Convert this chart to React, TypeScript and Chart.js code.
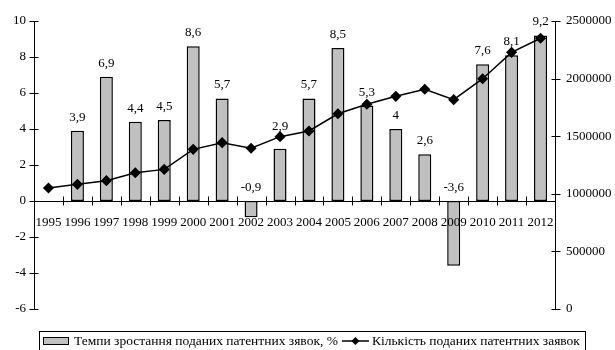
import { useEffect, useRef } from "react";
import { Chart, registerables } from "chart.js";

Chart.register(...registerables);

const years = [
  "1995", "1996", "1997", "1998", "1999", "2000", "2001", "2002", "2003",
  "2004", "2005", "2006", "2007", "2008", "2009", "2010", "2011", "2012",
];

// Growth rate of filed patent applications, % (no value for the first year)
const growthRates: (number | null)[] = [
  null, 3.9, 6.9, 4.4, 4.5, 8.6, 5.7, -0.9, 2.9,
  5.7, 8.5, 5.3, 4, 2.6, -3.6, 7.6, 8.1, 9.2,
];

// Number of filed patent applications
const applications = [
  1050000, 1082000, 1114000, 1183000, 1212000, 1386000, 1444000, 1395000, 1496000,
  1545000, 1695000, 1777000, 1846000, 1907000, 1817000, 1999000, 2228000, 2350000,
];

const rateTicks = [-6, -4, -2, 0, 2, 4, 6, 8, 10];
const countTicks = [0, 500000, 1000000, 1500000, 2000000, 2500000];

const rateLabel = "Темпи зростання поданих патентних зявок, %";
const countLabel = "Кількість поданих патентних заявок";

const FONT_FAMILY = "'Liberation Serif', 'Times New Roman', serif";
const FONT_SIZE = 13;
const LEGEND_FONT_SIZE = 13.5;
const BAR_FILL = "#c0c0c0";

const fmtRate = (v: number) => String(v).replace(".", ",");

// Tick marks that cross each axis line
const crossTicks = {
  id: "crossTicks",
  afterDatasetsDraw(chart: any) {
    const { ctx, scales } = chart;
    const x = scales.x;
    const y = scales.y;
    const y1 = scales.y1;
    const half = 4;
    ctx.save();
    ctx.strokeStyle = "#000";
    ctx.lineWidth = 1;
    ctx.beginPath();
    const zeroY = Math.round(y.getPixelForValue(0)) + 0.5;
    const n = years.length;
    const step = (x.right - x.left) / n;
    for (let i = 1; i < n; i++) {
      const px = Math.round(x.left + i * step) + 0.5;
      ctx.moveTo(px, zeroY - half - 1);
      ctx.lineTo(px, zeroY + half);
    }
    const lx = Math.round(y.right) + 0.5;
    rateTicks.forEach((v) => {
      const py = Math.round(y.getPixelForValue(v)) + 0.5;
      ctx.moveTo(lx - half - 1, py);
      ctx.lineTo(lx + half, py);
    });
    const rx = Math.round(y1.left) + 0.5;
    countTicks.forEach((v) => {
      const py = Math.round(y1.getPixelForValue(v)) + 0.5;
      ctx.moveTo(rx - half, py);
      ctx.lineTo(rx + half + 1, py);
    });
    ctx.stroke();
    ctx.restore();
  },
};

// Value labels above the bars, nudged up when they would sit on a line marker
const barValueLabels = {
  id: "barValueLabels",
  afterDatasetsDraw(chart: any) {
    const { ctx } = chart;
    const lineMeta = chart.getDatasetMeta(0);
    chart.data.datasets.forEach((ds: any, di: number) => {
      if (ds.type !== "bar") return;
      const meta = chart.getDatasetMeta(di);
      ctx.save();
      ctx.font = `${FONT_SIZE}px ${FONT_FAMILY}`;
      ctx.fillStyle = "#000";
      ctx.textAlign = "center";
      ctx.textBaseline = "middle";
      meta.data.forEach((el: any, i: number) => {
        const v = ds.data[i];
        if (v === null || v === undefined) return;
        const top = Math.min(el.y, el.base);
        let ly = top - 13.5;
        const pt = lineMeta.data[i];
        if (pt && Math.abs(pt.y - ly) < 10.5) {
          ly = Math.min(ly, pt.y - 10.5);
        }
        ctx.fillText(fmtRate(v), el.x, ly);
      });
      ctx.restore();
    });
  },
};

// Framed legend row at the bottom of the canvas
const framedLegend = {
  id: "framedLegend",
  afterDraw(chart: any) {
    const { ctx } = chart;
    const [lineDs, barDs] = chart.data.datasets;
    const left = 39.5;
    const top = 331.5;
    const midY = 341;
    ctx.save();
    ctx.font = `${LEGEND_FONT_SIZE}px ${FONT_FAMILY}`;
    ctx.textBaseline = "middle";
    ctx.textAlign = "left";
    ctx.lineWidth = 1;
    ctx.strokeStyle = "#000";

    // bar swatch
    ctx.fillStyle = barDs.backgroundColor;
    ctx.fillRect(43.5, 337.5, 25, 7);
    ctx.strokeRect(43.5, 337.5, 25, 7);
    ctx.fillStyle = "#000";
    const t1x = 74;
    ctx.fillText(barDs.label, t1x, midY);
    const t1End = t1x + ctx.measureText(barDs.label).width;

    // line swatch with diamond marker
    const s0 = t1End + 4;
    const s1 = s0 + 27;
    ctx.beginPath();
    ctx.lineWidth = 1.5;
    ctx.moveTo(s0, midY);
    ctx.lineTo(s1, midY);
    ctx.stroke();
    const cx = (s0 + s1) / 2;
    const r = 4;
    ctx.beginPath();
    ctx.moveTo(cx, midY - r);
    ctx.lineTo(cx + r, midY);
    ctx.lineTo(cx, midY + r);
    ctx.lineTo(cx - r, midY);
    ctx.closePath();
    ctx.fillStyle = lineDs.pointBackgroundColor;
    ctx.fill();
    ctx.fillStyle = "#000";
    const t2x = s1 + 3;
    ctx.fillText(lineDs.label, t2x, midY);
    const t2End = t2x + ctx.measureText(lineDs.label).width;

    // frame (bottom edge runs past the canvas)
    ctx.lineWidth = 1;
    ctx.strokeRect(left, top, Math.round(t2End + 6 - left), 30);
    ctx.restore();
  },
};

export default function App() {
  const canvasRef = useRef<HTMLCanvasElement | null>(null);

  useEffect(() => {
    document.body.style.margin = "0";
    const canvas = canvasRef.current;
    if (!canvas) return;

    const tickFont = { family: FONT_FAMILY, size: FONT_SIZE };

    const chart = new Chart(canvas, {
      data: {
        labels: years,
        datasets: [
          {
            type: "line",
            label: countLabel,
            data: applications,
            yAxisID: "y1",
            borderColor: "#000",
            borderWidth: 1.5,
            pointStyle: "rectRot",
            pointRadius: 4.5,
            pointBackgroundColor: "#000",
            pointBorderColor: "#000",
            tension: 0,
            order: 0,
          },
          {
            type: "bar",
            label: rateLabel,
            data: growthRates,
            yAxisID: "y",
            backgroundColor: BAR_FILL,
            borderColor: "#000",
            borderWidth: 1.5,
            borderSkipped: false,
            barPercentage: 0.45,
            categoryPercentage: 1,
            order: 1,
          },
        ],
      } as any,
      options: {
        responsive: false,
        animation: false,
        events: [],
        layout: { padding: { top: 21, bottom: 41, left: 0, right: 0 } },
        plugins: {
          legend: { display: false },
          tooltip: { enabled: false },
        },
        scales: {
          x: {
            type: "category",
            position: { y: 0 } as any,
            offset: true,
            grid: { display: false, drawTicks: false, offset: true },
            border: { display: true, color: "#000", width: 1, z: 1 } as any,
            ticks: {
              font: tickFont,
              color: "#000",
              autoSkip: false,
              maxRotation: 0,
              minRotation: 0,
              padding: 14,
              z: 1,
            },
          },
          y: {
            type: "linear",
            position: "left",
            min: -6,
            max: 10,
            grid: { display: false, drawTicks: false },
            border: { display: true, color: "#000", width: 1 },
            ticks: {
              stepSize: 2,
              font: tickFont,
              color: "#000",
              padding: 8,
            },
            afterFit: (scale: any) => {
              scale.width = 34;
            },
          },
          y1: {
            type: "linear",
            position: "right",
            min: 0,
            max: 2500000,
            grid: { display: false, drawTicks: false },
            border: { display: true, color: "#000", width: 1 },
            ticks: {
              stepSize: 500000,
              font: tickFont,
              color: "#000",
              padding: 11,
              callback: (v: any) => String(v),
            },
            afterFit: (scale: any) => {
              scale.width = 60;
            },
          },
        },
      },
      plugins: [crossTicks, barValueLabels, framedLegend],
    } as any);

    return () => chart.destroy();
  }, []);

  return (
    <div style={{ width: 615, height: 350, background: "#fff" }}>
      <canvas ref={canvasRef} width={615} height={350} style={{ display: "block" }} />
    </div>
  );
}
